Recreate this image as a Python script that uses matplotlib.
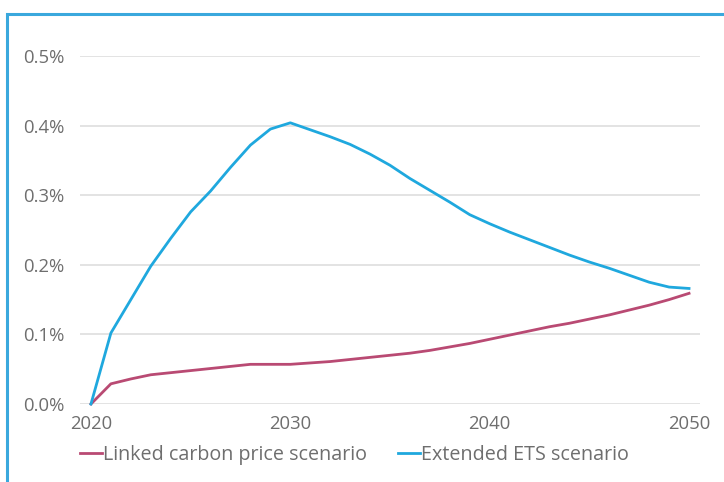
import matplotlib
matplotlib.use("Agg")
import matplotlib.pyplot as plt
from matplotlib.patches import Rectangle
from matplotlib.ticker import FuncFormatter

years = list(range(2020, 2051))

# GDP impact, % deviation from baseline
linked_carbon = [0.000, 0.029, 0.036, 0.042, 0.045, 0.048, 0.051, 0.054, 0.057, 0.057,
                 0.057, 0.059, 0.061, 0.064, 0.067, 0.070, 0.073, 0.077, 0.082, 0.087,
                 0.093, 0.099, 0.105, 0.111, 0.116, 0.122, 0.128, 0.135, 0.142, 0.150,
                 0.159]
extended_ets = [0.000, 0.102, 0.150, 0.198, 0.238, 0.276, 0.306, 0.340, 0.372, 0.395,
                0.404, 0.394, 0.384, 0.373, 0.359, 0.343, 0.324, 0.307, 0.290, 0.272,
                0.259, 0.247, 0.236, 0.225, 0.214, 0.204, 0.195, 0.185, 0.175, 0.168,
                0.166]

series_names = ["Linked carbon price scenario", "Extended ETS scenario"]
series_colors = ["#b94a73", "#1fa8de"]
x_ticks = [2020, 2030, 2040, 2050]
y_ticks = [0.0, 0.1, 0.2, 0.3, 0.4, 0.5]

plt.rcParams["font.family"] = ["Open Sans", "DejaVu Sans"]
text_grey = "#6e6e6e"

fig = plt.figure(figsize=(7.24, 4.82), dpi=100)
ax = fig.add_axes([80 / 724, 1 - 404 / 482, 620 / 724, 348 / 482])

for vals, name, col in zip([linked_carbon, extended_ets], series_names, series_colors):
    ax.plot(years, vals, color=col, lw=2.0, label=name, clip_on=False, zorder=3)

ax.set_xlim(2019.45, 2050.55)
ax.set_ylim(0, 0.5)
ax.set_xticks(x_ticks)
ax.set_yticks(y_ticks)
ax.yaxis.set_major_formatter(FuncFormatter(lambda v, p: f"{v:.1f}%"))
ax.grid(axis="y", color="#dedede", lw=1.2)
ax.set_axisbelow(True)
for s in ax.spines.values():
    s.set_visible(False)
ax.tick_params(axis="both", length=0, labelsize=13.3, colors=text_grey)
ax.tick_params(axis="y", pad=11)
ax.tick_params(axis="x", pad=8)

fig.legend(loc="center left", bbox_to_anchor=(80 / 724, 27 / 482), ncol=2, frameon=False,
           fontsize=14.2, handlelength=1.1, handletextpad=0.05, columnspacing=1.6,
           borderpad=0, borderaxespad=0, labelcolor=text_grey)

# blue frame around the panel
fig.patches.append(Rectangle((7 / 724, -0.1), 1.2, 1.1 - 14 / 482, transform=fig.transFigure,
                             fill=False, edgecolor="#3aa8dd", lw=2.2))

fig.savefig("out.png", dpi=100)
